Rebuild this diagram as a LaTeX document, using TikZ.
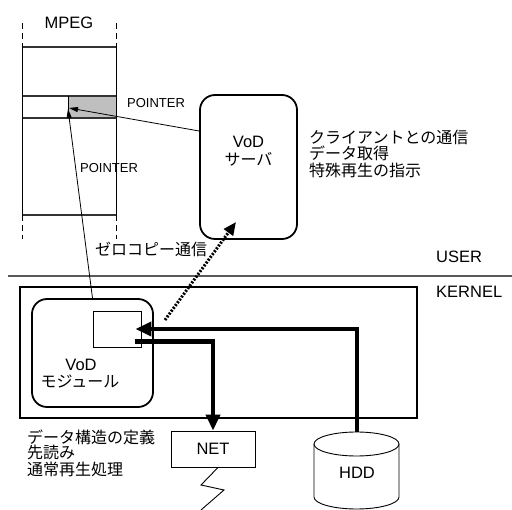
\documentclass[tikz,border=0pt]{standalone}
\usepackage{fontspec}
\setmainfont{Liberation Sans}
\newfontfamily\jp{Noto Sans CJK JP}
\usetikzlibrary{arrows.meta}
\begin{document}
\begin{tikzpicture}[x=1pt,y=-1pt,
  lat/.style={inner sep=0pt,font=\fontsize{16.5}{18}\selectfont},
  small/.style={inner sep=0pt,font=\fontsize{13}{14}\selectfont},
  jtx/.style={inner sep=0pt,font=\jp\fontsize{16}{17}\selectfont},
  thinln/.style={line width=0.9pt},
  rbox/.style={draw,line width=1.8pt,rounded corners=15pt,inner sep=0pt},
  sbox/.style={draw,line width=0.9pt,inner sep=0pt},
  thinarrow/.style={line width=0.8pt,-{Triangle[length=9pt,width=5pt]}},
  thickarrow/.style={line width=4.5pt,-{Triangle[length=16pt,width=14pt]}},
  zeroarrow/.style={line width=3pt,dash pattern=on 2pt off 1.5pt,-{Triangle[length=13pt,width=11pt]}},
  mpegline/.style={line width=1.1pt,draw=black!80}
]
\useasboundingbox (0,0) rectangle (512,510);

% MPEG buffer
\fill[black!25] (68,96) rectangle (116,118);
\draw[mpegline] (22,47) -- (116,47);
\draw[mpegline] (22,96) -- (116,96);
\draw[mpegline] (22,118) -- (116,118);
\draw[mpegline] (22,215) -- (116,215);
\draw[thinln] (22,47) -- (22,215);
\draw[thinln] (116,47) -- (116,215);
\draw[thinln] (68,96) -- (68,118);
\draw[thinln,dash pattern=on 6pt off 4pt] (22,23) -- (22,47);
\draw[thinln,dash pattern=on 6pt off 4pt] (116,23) -- (116,47);
\draw[thinln,dash pattern=on 6pt off 4pt] (22,215) -- (22,239);
\draw[thinln,dash pattern=on 6pt off 4pt] (116,215) -- (116,239);
\node[lat,anchor=base] (mpeg) at (69,29) {MPEG};
\coordinate (ptr) at (69,108);

% USER / KERNEL separator
\draw[line width=1.5pt,draw=black!65] (8,276) -- (512,276);
\node[lat,anchor=base west] (user) at (436,263) {USER};
\node[lat,anchor=base west] (kernel) at (436,298) {KERNEL};

% VoD server
\node[rbox,minimum width=97pt,minimum height=144pt] (server) at (248.5,167) {};
\node[lat,anchor=base] (srvl1) at (248.5,148) {VoD};
\node[jtx,anchor=base] (srvl2) at (248.5,165.5) {サーバ};
\node[jtx,anchor=base west] (srvt1) at (309,143.5) {クライアントとの通信};
\node[jtx,anchor=base west] (srvt2) at (309,160) {データ取得};
\node[jtx,anchor=base west] (srvt3) at (309,176.5) {特殊再生の指示};

% kernel box
\node[draw,line width=1.8pt,inner sep=0pt,minimum width=397pt,minimum height=131pt] (kbox) at (218.5,352.5) {};

% VoD module
\node[rbox,minimum width=121pt,minimum height=108pt] (module) at (92.5,353) {};
\node[sbox,minimum width=48pt,minimum height=36pt] (buf) at (117,329) {};
\node[lat,anchor=base] (modl1) at (81,370.5) {VoD};
\node[jtx,anchor=base] (modl2) at (80,388) {モジュール};

% pointers
\node[small,anchor=base west] (ptr1) at (127,108) {POINTER};
\node[small,anchor=base west] (ptr2) at (80,173) {POINTER};
\draw[thinarrow] ([yshift=36pt]server.west) -- (ptr);
\draw[thinarrow] (module.north) -- ([xshift=-1pt,yshift=-1pt]ptr);

% zero copy
\node[jtx,anchor=base west] (zc) at (95,256) {ゼロコピー通信};
\coordinate (zcstart) at (165,320);
\coordinate (zcend) at (236,222);
\draw[zeroarrow] (zcstart) -- (zcend);

% NET
\node[sbox,minimum width=84pt,minimum height=36pt] (net) at (213,449) {};
\node[lat,anchor=base] (netl) at (213,455) {NET};
\draw[thinln] ([xshift=5pt]net.south) -- (201,485) -- (224,490) -- (201,510);

% HDD cylinder
\draw[thinln] (314,444) -- (314,497) arc[start angle=180,end angle=360,x radius=42.5pt,y radius=12pt] -- (399,444);
\draw[thinln] (356.5,444) ellipse[x radius=42.5pt,y radius=12pt];
\coordinate (hddtop) at (357,432);
\node[lat,anchor=base] (hddl) at (357,479) {HDD};

% thick data flows
\draw[thickarrow] (hddtop) |- ([xshift=-6pt]buf.east);
\draw[thickarrow] ([xshift=-6pt,yshift=6pt]buf.south east) -| (net.north);

% left text
\node[jtx,anchor=base west] (lt1) at (27,443.5) {データ構造の定義};
\node[jtx,anchor=base west] (lt2) at (27,459) {先読み};
\node[jtx,anchor=base west] (lt3) at (27,476) {通常再生処理};
\end{tikzpicture}
\end{document}
